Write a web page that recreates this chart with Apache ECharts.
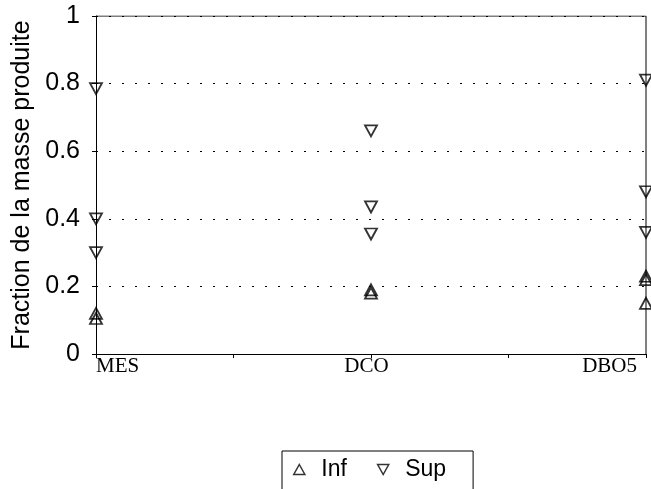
<!DOCTYPE html>
<html>
<head>
<meta charset="utf-8">
<script src="https://cdn.jsdelivr.net/npm/echarts@6/dist/echarts.min.js"></script>
<style>
  html, body { margin: 0; padding: 0; background: #fff; }
  #chart { width: 651px; height: 489px; }
</style>
</head>
<body>
<div id="chart"></div>
<script>
// parametres mesures
const categories = ['MES', 'DCO', 'DBO5'];
const yTicks = [0, 0.2, 0.4, 0.6, 0.8, 1];

// valeurs (une liste par parametre)
const infMES = [0.12, 0.105];
const infDCO = [0.19, 0.18];
const infDBO5 = [0.23, 0.22, 0.15];
const supMES = [0.785, 0.40, 0.30];
const supDCO = [0.66, 0.435, 0.355];
const supDBO5 = [0.81, 0.48, 0.36];

const infData = [infMES, infDCO, infDBO5];
const supData = [supMES, supDCO, supDBO5];

// chaque parametre sur une graduation paire de l'axe (0, 2, 4)
function toPoints(groups) {
  const pts = [];
  groups.forEach((vals, i) => vals.forEach(v => pts.push([i * 2, v])));
  return pts;
}

const chart = echarts.init(document.getElementById('chart'));

const triUp = 'path://M5,0 L10,9 L0,9 Z';
const triDown = 'path://M0,0 L10,0 L5,9 Z';

const option = {
  animation: false,
  backgroundColor: '#fff',
  grid: { left: 96, right: 5, top: 16, bottom: 135 },
  xAxis: {
    type: 'value',
    min: 0,
    max: 4,
    interval: 1,
    axisLine: { show: true, lineStyle: { color: '#000', width: 1 } },
    axisTick: { show: true, inside: false, length: 4, lineStyle: { color: '#000' } },
    splitLine: { show: false },
    axisLabel: {
      color: '#000',
      fontFamily: 'Liberation Serif',
      fontSize: 21,
      margin: 2,
      padding: [0, 9, 0, 0],
      alignMinLabel: 'left',
      alignMaxLabel: 'right',
      formatter: v => (v % 2 === 0 ? categories[v / 2] : '')
    }
  },
  yAxis: {
    type: 'value',
    min: yTicks[0],
    max: yTicks[yTicks.length - 1],
    interval: 0.2,
    name: 'Fraction de la masse produite',
    nameLocation: 'middle',
    nameGap: 59,
    nameTextStyle: { color: '#000', fontFamily: 'Liberation Sans', fontSize: 25 },
    axisLine: { show: true, lineStyle: { color: '#000', width: 1 } },
    axisTick: { show: true, length: 4, lineStyle: { color: '#000' } },
    axisLabel: {
      color: '#000',
      fontFamily: 'Liberation Sans',
      fontSize: 25,
      margin: 16,
      formatter: v => String(+v.toFixed(1))
    },
    splitLine: {
      show: true,
      lineStyle: { color: '#000', type: [2, 11], width: 1.2 }
    }
  },
  legend: {
    left: 282,
    top: 451,
    padding: [7, 27, 10, 11],
    itemGap: 30,
    itemWidth: 12,
    itemHeight: 10,
    borderColor: '#000',
    borderWidth: 1,
    textStyle: { color: '#000', fontFamily: 'Liberation Sans', fontSize: 23, padding: [0, 0, 0, 11] },
    data: [
      { name: 'Inf', icon: triUp, itemStyle: { color: '#fff', borderColor: '#000', borderWidth: 1.5 } },
      { name: 'Sup', icon: triDown, itemStyle: { color: '#fff', borderColor: '#000', borderWidth: 1.5 } }
    ]
  },
  series: [
    {
      name: 'Inf',
      type: 'scatter',
      symbol: triUp,
      symbolSize: [12, 11],
      itemStyle: { color: 'rgba(255,255,255,0)', borderColor: '#000', borderWidth: 1.8 },
      data: toPoints(infData)
    },
    {
      name: 'Sup',
      type: 'scatter',
      symbol: triDown,
      symbolSize: [12, 11],
      itemStyle: { color: 'rgba(255,255,255,0)', borderColor: '#000', borderWidth: 1.8 },
      data: toPoints(supData)
    },
    {
      // cadre haut et droit du graphique
      type: 'line',
      silent: true,
      symbol: 'none',
      lineStyle: { color: '#000', width: 1 },
      data: [[0, 1], [4, 1], [4, 0]],
      legendHoverLink: false,
      tooltip: { show: false }
    }
  ]
};

chart.setOption(option);
</script>
</body>
</html>
